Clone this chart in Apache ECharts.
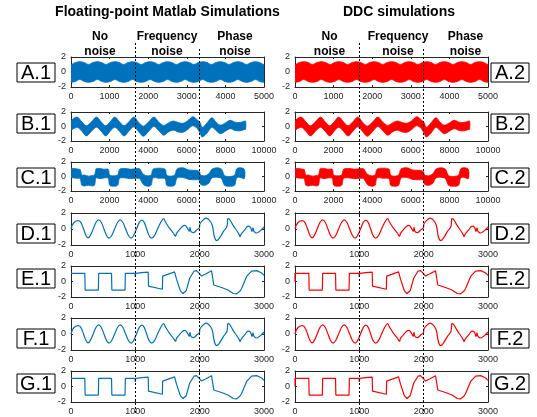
<!DOCTYPE html>
<html><head><meta charset="utf-8">
<script src="https://cdn.jsdelivr.net/npm/echarts@6/dist/echarts.min.js"></script>
<style>html,body{margin:0;padding:0;background:#fff}#c{width:537px;height:417px}</style>
</head><body><div id="c"></div>
<script>
const FONT = '"Liberation Sans", Arial, Helvetica, sans-serif';
// ---- text / ticks ----
const columnTitles = ['Floating-point Matlab Simulations', 'DDC simulations'];
const regionLabels = ['No\nnoise', 'Frequency\nnoise', 'Phase\nnoise'];
const rowLetters = ['A', 'B', 'C', 'D', 'E', 'F', 'G'];
const yTicks = [-2, 0, 2];
const xMaxA = 5000, xStepA = 1000;
const xMaxBC = 10000, xStepBC = 2000;
const xMaxDG = 3000, xStepDG = 1000;
const regionBounds = [1000, 2000];          // sample index in D-G units
const colors = ['#0072BD', '#FF0000'];

// ---- A: band envelope ----
const aX     = [-114, 0, 114, 228, 341, 455, 569, 683, 796, 910, 1024, 1138, 1251, 1365, 1479, 1593, 1706, 1820, 1934, 2048, 2161, 2275, 2389, 2503, 2616, 2730, 2844, 2958, 3071, 3185, 3299, 3413, 3526, 3640, 3754, 3868, 3981, 4095, 4209, 4323, 4436, 4550, 4664, 4778, 4891, 5000, 5114];
const aUpper = [1.27,
  1.0, 1.27, 1.38, 1.27, 1.0, 1.27, 1.38, 1.27, 1.0, 1.27, 1.38, 1.27, 1.0, 1.27, 1.38, 1.27,
  1.0, 1.27, 1.38, 1.27, 1.0, 1.27, 1.38, 1.27, 1.0, 1.27, 1.38, 1.27, 1.0, 1.27, 1.38, 1.27,
  1.0, 1.27, 1.38, 1.27, 1.0, 1.27, 1.38, 1.27, 1.0, 1.27, 1.38, 1.27, 1.0, 1.27];
const aLower = [-1.27,
  -1.38, -1.27, -1.0, -1.27, -1.38, -1.27, -1.0, -1.27, -1.38, -1.27, -1.0, -1.27, -1.38, -1.27, -1.0, -1.27,
  -1.38, -1.27, -1.0, -1.27, -1.38, -1.27, -1.0, -1.27, -1.38, -1.27, -1.0, -1.27, -1.38, -1.27, -1.0, -1.27,
  -1.38, -1.27, -1.0, -1.27, -1.38, -1.27, -1.0, -1.27, -1.38, -1.27, -1.0, -1.27, -1.38, -1.27];

// ---- B: band envelope ----
const bX     = [0, 312, 560, 800, 1060, 1320, 1560, 1800, 2030, 2271, 2510, 2750, 3000, 3259, 3500, 3750, 4030, 4298, 4550, 4800, 5050, 5301, 5550, 5800, 6050, 6310, 6550, 6700, 6800, 7050, 7300, 7550, 7750, 8000, 8250, 8500, 8750, 9000, 9050];
const bUpper = [0.7, 1.3, 0.65, 0.1, 0.65, 1.3, 0.65, 0.1, 0.65, 1.3, 0.65, 0.1, 0.65, 1.3, 0.6, 0.05, 0.65, 1.3, 0.6, 0.15, 0.5, 0.75, 0.55, 0.45, 0.8, 1.35, 0.9, 0.5, -0.1, 0.5, 1.2, 0.5, 0.2, 0.5, 0.85, 0.6, 0.55, 0.75, 0.75];
const bLower = [-0.45, -0.1, -0.65, -1.3, -0.65, -0.1, -0.65, -1.3, -0.65, -0.1, -0.65, -1.3, -0.65, -0.05, -0.7, -1.35, -0.65, 0.0, -0.6, -1.2, -0.75, -0.5, -0.75, -0.8, -0.4, 0.1, -0.3, -1.0, -1.45, -0.9, -0.1, -0.65, -1.0, -0.65, -0.3, -0.55, -0.6, -0.4, -0.4];

// ---- C: band envelope ----
const cX     = [0, 150, 400, 480, 560, 700, 900, 1100, 1220, 1300, 1500, 1700, 1930, 2000, 2200, 2420, 2520, 2800, 3100, 3400, 3560, 3750, 3950, 4150, 4250, 4550, 4880, 4950, 5150, 5370, 5500, 5800, 6100, 6450, 6650, 6720, 6950, 7150, 7300, 7550, 7800, 7950, 8200, 8480, 8580, 8750, 8980];
const cUpper = [1.0, 1.1, 1.0, 0.95, 0.2, 0.2, 0.05, 0.15, 0.2, 1.05, 1.1, 1.0, 1.0, 0.2, 0.1, 0.2, 1.0, 1.1, 1.0, 1.1, 1.05, 0.3, 0.1, 0.2, 1.0, 1.15, 1.0, 0.2, 0.05, 0.2, 1.05, 1.2, 0.9, 0.85, 0.7, 0.2, 0.1, 0.4, 1.0, 1.2, 1.0, 0.15, 0.0, 0.2, 1.05, 1.2, 1.0];
const cLower = [-0.1, -0.2, -0.25, -0.3, -1.2, -1.3, -1.2, -1.3, -1.2, -0.2, -0.3, -0.2, -0.25, -1.2, -1.35, -1.2, -0.25, -0.2, -0.3, -0.25, -0.3, -1.1, -1.35, -1.2, -0.2, -0.25, -0.3, -1.2, -1.35, -1.2, -0.2, -0.15, -0.4, -0.45, -0.5, -1.1, -1.2, -0.9, -0.2, -0.1, -0.3, -1.2, -1.35, -1.2, -0.2, -0.1, -0.3];

// ---- D / F: sine-like signal ----
const dX = [0, 40, 110, 150, 195, 235, 265, 300, 345, 390, 430, 470, 512, 555, 592, 630, 678, 725, 765, 805, 850, 895, 935, 975, 1018, 1060, 1100, 1140, 1176, 1215, 1252, 1295, 1345, 1400, 1438, 1470, 1530, 1590, 1625, 1640, 1690, 1735, 1770, 1810, 1838, 1850, 1865, 1900, 1950, 1998, 2003, 2050, 2100, 2150, 2195, 2230, 2265, 2310, 2370, 2425, 2440, 2470, 2520, 2580, 2615, 2628, 2645, 2700, 2755, 2790, 2815, 2828, 2845, 2885, 2945, 3000];
const dY = [0.0, 0.75, 1.05, 0.85, 0.0, -0.85, -1.1, -0.8, 0.0, 0.85, 1.15, 0.85, 0.0, -0.85, -1.15, -0.85, 0.0, 0.85, 1.15, 0.85, 0.0, -0.85, -1.15, -0.8, 0.0, 0.8, 1.1, 0.8, 0.0, -0.85, -1.15, -0.85, 0.0, 0.9, 1.3, 0.85, 0.1, -0.5, -0.9, -0.55, -0.05, 0.35, 0.45, 0.1, -0.3, 0.2, -0.3, -0.45, -0.15, 0.2, 0.6, 1.1, 1.35, 1.1, 0.5, -1.0, -1.45, -1.1, -0.3, 0.35, 1.3, 1.15, 0.45, -0.25, -0.7, -0.95, -0.65, -0.1, 0.35, 0.2, -0.3, 0.15, -0.3, -0.5, -0.2, 0.25];

// ---- E / G: square-like signal ----
const eX = [0, 215, 220, 425, 430, 630, 635, 840, 845, 995, 1000, 1005, 1100, 1200, 1205, 1420, 1425, 1610, 1640, 1700, 1742, 1790, 1846, 1914, 1950, 2000, 2028, 2100, 2184, 2200, 2220, 2350, 2440, 2522, 2570, 2620, 2652, 2730, 2808, 2886, 2964, 3000];
const eY = [1.05, 1.05, -1.1, -1.1, 1.05, 1.05, -1.1, -1.1, 1.05, 1.05, 0.6, 1.05, 1.15, 1.2, -0.6, -1.0, 0.7, 1.25, 0.3, -1.2, -1.55, -1.2, 0.45, 1.35, 1.4, 1.0, 0.7, 1.0, 1.4, 1.2, -0.45, -0.8, -1.1, -1.55, -1.6, -1.3, -0.9, 0.65, 1.35, 1.4, 1.1, 0.8];

// ---- layout ----
const rowTop = [57, 112, 162, 213, 266, 318, 371];
const rowHeight = [30, 29, 29, 32, 31, 32, 31];
const colLeft = [71, 295];
const colWidth = 193;
const boxTop = [63, 114, 168, 224, 269, 329, 374];
const boxLeft = [17, 491];
const titleCenter = [167.5, 399];
const regionCenters = [[100, 167, 235], [329.5, 398, 465.5]];
const dashTopFrac = [0.992, 0.976];

const rowKinds = ['A', 'B', 'C', 'D', 'E', 'D', 'E'];

const grids = [], xAxes = [], yAxes = [], series = [], graphics = [];
const AX = '#262626';
const plain = v => String(v);
function mkAxes(gi, max, step) {
  const common = {gridIndex: gi, type: 'value', min: 0, max: max, interval: step,
    axisLine: {show: true, onZero: false, lineStyle: {color: AX, width: 1}},
    axisTick: {show: true, inside: true, length: 2, lineStyle: {color: AX}},
    splitLine: {show: false}};
  xAxes.push(Object.assign({}, common, {position: 'bottom',
    axisLabel: {show: true, fontSize: 9, color: AX, margin: 5, fontFamily: FONT, showMinLabel: true, showMaxLabel: true, formatter: plain}}));
  xAxes.push(Object.assign({}, common, {position: 'top', axisLabel: {show: false}}));
  const yc = {gridIndex: gi, type: 'value', min: yTicks[0], max: yTicks[yTicks.length - 1], interval: 2,
    axisLine: {show: true, onZero: false, lineStyle: {color: AX, width: 1}},
    axisTick: {show: true, inside: true, length: 2, lineStyle: {color: AX}},
    splitLine: {show: false}};
  yAxes.push(Object.assign({}, yc, {position: 'left',
    axisLabel: {show: true, fontSize: 9, color: AX, margin: 5, fontFamily: FONT, formatter: plain}}));
  yAxes.push(Object.assign({}, yc, {position: 'right', axisLabel: {show: false}}));
  return {x: xAxes.length - 2, y: yAxes.length - 2};
}
function band(ax, xs, up, lo, color, smooth) {
  series.push({type: 'custom', xAxisIndex: ax.x, yAxisIndex: ax.y, silent: true, clip: true,
    data: [[xs[0], up[0]]],
    renderItem: function (params, api) {
      const top = xs.map((x, i) => api.coord([x, up[i]]));
      const bot = xs.map((x, i) => api.coord([x, lo[i]])).reverse();
      return {type: 'polygon', shape: {points: top.concat(bot), smooth: smooth},
        style: {fill: color, stroke: color, lineWidth: 0.8}};
    }});
}
function line(ax, xs, ys, color, smooth) {
  series.push({type: 'line', xAxisIndex: ax.x, yAxisIndex: ax.y, data: xs.map((x, i) => [x, ys[i]]),
    symbol: 'none', smooth: smooth, silent: true, lineStyle: {color: color, width: 1.2}});
}

let gi = 0;
for (let c = 0; c < 2; c++) {
  for (let r = 0; r < 7; r++) {
    grids.push({left: colLeft[c], top: rowTop[r], width: colWidth, height: rowHeight[r], show: false, containLabel: false});
    const kind = rowKinds[r];
    const color = colors[c];
    let ax;
    if (kind === 'A') { ax = mkAxes(gi, xMaxA, xStepA); band(ax, aX, aUpper, aLower, color, 0.3); }
    else if (kind === 'B') { ax = mkAxes(gi, xMaxBC, xStepBC); band(ax, bX, bUpper, bLower, color, 0.35); }
    else if (kind === 'C') { ax = mkAxes(gi, xMaxBC, xStepBC); band(ax, cX, cUpper, cLower, color, 0.3); }
    else if (kind === 'D') { ax = mkAxes(gi, xMaxDG, xStepDG); line(ax, dX, dY, color, 0.4); }
    else { ax = mkAxes(gi, xMaxDG, xStepDG);
      const xs = c === 1 ? [0].concat(eX) : eX; const ys = c === 1 ? [0].concat(eY) : eY;
      line(ax, xs, ys, color, false); }
    gi++;
    graphics.push({type: 'rect', shape: {x: boxLeft[c], y: boxTop[r], width: 38, height: 19},
      style: {fill: '#fff', stroke: '#000', lineWidth: 1}});
    graphics.push({type: 'text', x: boxLeft[c] + 19, y: boxTop[r] + 10,
      style: {text: rowLetters[r] + '.' + (c + 1), font: '20px ' + FONT, textAlign: 'center', textVerticalAlign: 'middle', fill: '#000'}});
  }
  graphics.push({type: 'text', x: titleCenter[c], y: 5,
    style: {text: columnTitles[c], font: 'bold 14px ' + FONT, textAlign: 'center', textVerticalAlign: 'top', fill: '#000'}});
  regionLabels.forEach((t, k) => graphics.push({type: 'text', x: regionCenters[c][k], y: 29,
    style: {text: t, font: 'bold 12px ' + FONT, lineHeight: 15, textAlign: 'center', textVerticalAlign: 'top', fill: '#000'}}));
}
for (let c = 0; c < 2; c++) {
  grids.push({left: colLeft[c], top: 40, width: colWidth, height: 374, show: false});
  xAxes.push({gridIndex: gi, type: 'value', min: 0, max: xMaxDG, show: false});
  yAxes.push({gridIndex: gi, type: 'value', min: 0, max: 1, show: false});
  series.push({type: 'lines', coordinateSystem: 'cartesian2d', xAxisIndex: xAxes.length - 1, yAxisIndex: yAxes.length - 1,
    silent: true, z: 10, lineStyle: {color: '#000', width: 1, type: [2, 2], opacity: 1},
    data: regionBounds.map((b, k) => ({coords: [[b, dashTopFrac[k]], [b, 0]]}))});
  gi++;
}

const chart = echarts.init(document.getElementById('c'), null, {renderer: 'canvas'});
chart.setOption({animation: false, grid: grids, xAxis: xAxes, yAxis: yAxes, series: series, graphic: graphics});
</script></body></html>
